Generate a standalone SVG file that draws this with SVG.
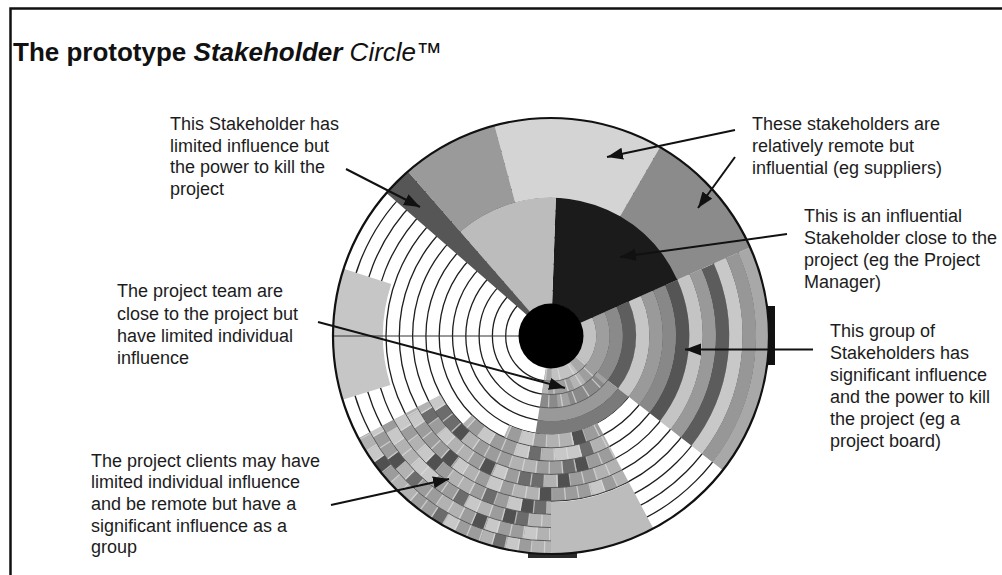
<svg xmlns="http://www.w3.org/2000/svg" width="1002" height="575" viewBox="0 0 1002 575">
<defs>
<style>
.lbl{font-family:"Liberation Sans",Arial,sans-serif;font-size:18px;fill:#1c1c1c}
.ttl{font-family:"Liberation Sans",Arial,sans-serif;font-size:26px;fill:#111}
.arr{stroke:#111;stroke-width:2;fill:none;marker-end:url(#ah)}
.rl{fill:none;stroke:#1e1e1e;stroke-width:1.3}
.b{fill:none;stroke-width:13.5}
.s{fill:none}
.ck{fill:none;stroke-width:13.5}
.c1{stroke:#6c6c6c;stroke-dasharray:13 39 13 65 26 52}
.c2{stroke:#c8c8c8;stroke-dasharray:13 26 13 52 13 39 26 26}
.c3{stroke:#505050;stroke-dasharray:13 91 13 65 13 117}
.c4{stroke:#b2b2b2;stroke-dasharray:26 39 13 78}
.sep{fill:none;stroke:#dedede;stroke-width:13.3;stroke-dasharray:1.3 11.7;opacity:.7}
.cl{fill:none;stroke:#5a5a5a;stroke-width:0.9}
</style>
<marker id="ah" markerUnits="userSpaceOnUse" markerWidth="18" markerHeight="14" refX="16" refY="6" orient="auto"><path d="M0,0 L16,6 L0,12 z" fill="#111"/></marker>
<mask id="mChk" maskUnits="userSpaceOnUse" x="-250" y="-250" width="500" height="500">
<g fill="none" stroke="#fff" stroke-width="13.6">
<circle r="105.15" pathLength="360" stroke-dasharray="53 400" transform="rotate(62)"/>
<circle r="118.45" pathLength="360" stroke-dasharray="73 400" transform="rotate(62)"/>
<circle r="131.75" pathLength="360" stroke-dasharray="90 400" transform="rotate(62)"/>
<circle r="145.05" pathLength="360" stroke-dasharray="90 400" transform="rotate(62)"/>
<circle r="158.35" pathLength="360" stroke-dasharray="90 400" transform="rotate(62)"/>
<circle r="171.65" pathLength="360" stroke-dasharray="62 400" transform="rotate(90)"/>
<circle r="184.95" pathLength="360" stroke-dasharray="62 400" transform="rotate(90)"/>
<circle r="198.25" pathLength="360" stroke-dasharray="62 400" transform="rotate(90)"/>
<circle r="211.55" pathLength="360" stroke-dasharray="62 400" transform="rotate(90)"/>
</g>
</mask>
<mask id="mLow" maskUnits="userSpaceOnUse" x="-250" y="-250" width="500" height="500">
<circle r="65.25" fill="none" stroke="#fff" stroke-width="66.6" pathLength="360" stroke-dasharray="61 400" transform="rotate(38)"/>
</mask>
</defs>
<rect x="0" y="0" width="1002" height="575" fill="#fff"/>
<path d="M10.5,575 V8.5 H1002" fill="none" stroke="#111" stroke-width="2.5"/>
<g id="title"><text class="ttl" x="13" y="61"><tspan font-weight="bold">The prototype </tspan><tspan font-weight="bold" font-style="italic">Stakeholder</tspan><tspan font-style="italic"> Circle™</tspan></text></g>

<rect x="768" y="306" width="7" height="59" fill="#111"/>
<rect x="528" y="553" width="49" height="5" fill="#2a2a2a"/>

<g id="circle" transform="translate(551 336)">
<circle r="218" fill="#fff"/>
<g id="ringlines">
<circle class="rl" r="45.3"/><circle class="rl" r="58.6"/><circle class="rl" r="71.9"/><circle class="rl" r="85.2"/><circle class="rl" r="98.5"/><circle class="rl" r="111.8"/><circle class="rl" r="125.1"/><circle class="rl" r="138.4"/><circle class="rl" r="151.7"/><circle class="rl" r="165"/><circle class="rl" r="178.3"/><circle class="rl" r="191.6"/><circle class="rl" r="204.9"/>
</g>
<g id="bands" transform="rotate(-24)">
<circle class="b" r="38.65" stroke="#c2c2c2" pathLength="360" stroke-dasharray="123 400"/>
<circle class="b" r="51.95" stroke="#9e9e9e" pathLength="360" stroke-dasharray="123 400"/>
<circle class="b" r="65.25" stroke="#8a8a8a" pathLength="360" stroke-dasharray="123 400"/>
<circle class="b" r="78.55" stroke="#5e5e5e" pathLength="360" stroke-dasharray="62 400"/>
<circle class="b" r="78.55" stroke="#999999" pathLength="360" stroke-dasharray="61 400" transform="rotate(62)"/>
<circle class="b" r="91.85" stroke="#c6c6c6" pathLength="360" stroke-dasharray="62 400"/>
<circle class="b" r="91.85" stroke="#7a7a7a" pathLength="360" stroke-dasharray="61 400" transform="rotate(62)"/>
<circle class="b" r="105.15" stroke="#9a9a9a" pathLength="360" stroke-dasharray="62 400"/>
<circle class="b" r="118.45" stroke="#888888" pathLength="360" stroke-dasharray="62 400"/>
<circle class="b" r="131.75" stroke="#555555" pathLength="360" stroke-dasharray="62 400"/>
<circle class="b" r="145.05" stroke="#c4c4c4" pathLength="360" stroke-dasharray="62 400"/>
<circle class="b" r="158.35" stroke="#999999" pathLength="360" stroke-dasharray="62 400"/>
<circle class="b" r="171.65" stroke="#5c5c5c" pathLength="360" stroke-dasharray="62 400"/>
<circle class="b" r="184.95" stroke="#c8c8c8" pathLength="360" stroke-dasharray="62 400"/>
<circle class="b" r="198.25" stroke="#979797" pathLength="360" stroke-dasharray="62 400"/>
<circle class="b" r="211.55" stroke="#a8a8a8" pathLength="360" stroke-dasharray="62 400"/>
</g>
<g id="lowcells" mask="url(#mLow)">
<circle class="ck" r="38.65" stroke="#a8a8a8" stroke-dasharray="12 12 12 24"/>
<circle class="ck" r="51.95" stroke="#b4b4b4" stroke-dasharray="12 36 12 24"/>
<circle class="ck" r="65.25" stroke="#a2a2a2" stroke-dasharray="12 24 24 36" stroke-dashoffset="12"/>
<circle class="sep" r="38.65" stroke-dasharray="1.3 10.7"/><circle class="sep" r="51.95" stroke-dasharray="1.3 10.7"/><circle class="sep" r="65.25" stroke-dasharray="1.3 10.7"/>
<circle class="cl" r="45.3"/><circle class="cl" r="58.6"/><circle class="cl" r="71.9"/>
</g>
<g id="checker" mask="url(#mChk)">
<circle r="158.35" fill="none" stroke="#9c9c9c" stroke-width="120"/>
<circle class="ck c1" r="105.15" stroke-dashoffset="0"/><circle class="ck c2" r="105.15" stroke-dashoffset="26"/><circle class="ck c3" r="105.15" stroke-dashoffset="52"/><circle class="ck c4" r="105.15" stroke-dashoffset="13"/>
<circle class="ck c1" r="118.45" stroke-dashoffset="65"/><circle class="ck c2" r="118.45" stroke-dashoffset="0"/><circle class="ck c3" r="118.45" stroke-dashoffset="130"/><circle class="ck c4" r="118.45" stroke-dashoffset="39"/>
<circle class="ck c1" r="131.75" stroke-dashoffset="26"/><circle class="ck c2" r="131.75" stroke-dashoffset="78"/><circle class="ck c3" r="131.75" stroke-dashoffset="13"/><circle class="ck c4" r="131.75" stroke-dashoffset="91"/>
<circle class="ck c1" r="145.05" stroke-dashoffset="104"/><circle class="ck c2" r="145.05" stroke-dashoffset="39"/><circle class="ck c3" r="145.05" stroke-dashoffset="208"/><circle class="ck c4" r="145.05" stroke-dashoffset="0"/>
<circle class="ck c1" r="158.35" stroke-dashoffset="13"/><circle class="ck c2" r="158.35" stroke-dashoffset="117"/><circle class="ck c3" r="158.35" stroke-dashoffset="65"/><circle class="ck c4" r="158.35" stroke-dashoffset="52"/>
<circle class="ck c1" r="171.65" stroke-dashoffset="143"/><circle class="ck c2" r="171.65" stroke-dashoffset="13"/><circle class="ck c3" r="171.65" stroke-dashoffset="26"/><circle class="ck c4" r="171.65" stroke-dashoffset="117"/>
<circle class="ck c1" r="184.95" stroke-dashoffset="39"/><circle class="ck c2" r="184.95" stroke-dashoffset="156"/><circle class="ck c3" r="184.95" stroke-dashoffset="169"/><circle class="ck c4" r="184.95" stroke-dashoffset="26"/>
<circle class="ck c1" r="198.25" stroke-dashoffset="91"/><circle class="ck c2" r="198.25" stroke-dashoffset="52"/><circle class="ck c3" r="198.25" stroke-dashoffset="247"/><circle class="ck c4" r="198.25" stroke-dashoffset="65"/>
<circle class="ck c1" r="211.55" stroke-dashoffset="182"/><circle class="ck c2" r="211.55" stroke-dashoffset="91"/><circle class="ck c3" r="211.55" stroke-dashoffset="104"/><circle class="ck c4" r="211.55" stroke-dashoffset="143"/>
<circle class="sep" r="105.15"/><circle class="sep" r="118.45"/><circle class="sep" r="131.75"/><circle class="sep" r="145.05"/><circle class="sep" r="158.35"/><circle class="sep" r="171.65"/><circle class="sep" r="184.95"/><circle class="sep" r="198.25"/><circle class="sep" r="211.55"/>
<circle class="cl" r="111.8"/><circle class="cl" r="125.1"/><circle class="cl" r="138.4"/><circle class="cl" r="151.7"/><circle class="cl" r="165"/><circle class="cl" r="178.3"/><circle class="cl" r="191.6"/><circle class="cl" r="204.9"/>
</g>
<g id="sectors">
<circle class="s" r="85.2" stroke="#1b1b1b" stroke-width="106.6" pathLength="360" stroke-dasharray="64 400" transform="rotate(-88)"/>
<circle class="s" r="85.2" stroke="#bcbcbc" stroke-width="106.6" pathLength="360" stroke-dasharray="43 400" transform="rotate(-131)"/>
<circle class="s" r="178.2" stroke="#d4d4d4" stroke-width="80" pathLength="360" stroke-dasharray="45 400" transform="rotate(-105)"/>
<circle class="s" r="178.2" stroke="#8b8b8b" stroke-width="80" pathLength="360" stroke-dasharray="36 400" transform="rotate(-60)"/>
<circle class="s" r="178.2" stroke="#9a9a9a" stroke-width="80" pathLength="360" stroke-dasharray="26 400" transform="rotate(-131)"/>
<circle class="s" r="125" stroke="#565656" stroke-width="186" pathLength="360" stroke-dasharray="8 400" transform="rotate(-139)"/>
<circle class="s" r="193" stroke="#c6c6c6" stroke-width="50" pathLength="360" stroke-dasharray="35 400" transform="rotate(-197)"/>
<circle class="s" r="192" stroke="#bcbcbc" stroke-width="52" pathLength="360" stroke-dasharray="28 400" transform="rotate(62)"/>
</g>
<line x1="-218" y1="0" x2="-32" y2="0" stroke="#333" stroke-width="1"/>
<circle r="32.5" fill="#000"/>
<circle r="218" fill="none" stroke="#111" stroke-width="2.2"/>
</g>

<g id="connectors">
<line class="arr" x1="346" y1="169" x2="420" y2="207"/>
<line class="arr" x1="735" y1="130" x2="607" y2="157"/>
<line class="arr" x1="735" y1="157" x2="698" y2="208"/>
<line class="arr" x1="787" y1="234" x2="620" y2="257"/>
<line class="arr" x1="813" y1="349.5" x2="685" y2="349.5"/>
<line class="arr" x1="318" y1="322" x2="565" y2="388"/>
<line class="arr" x1="331" y1="505" x2="449" y2="479"/>
</g>

<g id="label-kill"><text class="lbl"><tspan x="170" y="130">This Stakeholder has</tspan><tspan x="170" y="151.5">limited influence but</tspan><tspan x="170" y="173">the power to kill the</tspan><tspan x="170" y="194.5">project</tspan></text></g>
<g id="label-remote"><text class="lbl"><tspan x="752" y="129.5">These stakeholders are</tspan><tspan x="752" y="151.7">relatively remote but</tspan><tspan x="752" y="174">influential (eg suppliers)</tspan></text></g>
<g id="label-influential"><text class="lbl"><tspan x="804" y="222">This is an influential</tspan><tspan x="804" y="244">Stakeholder close to the</tspan><tspan x="804" y="266">project (eg the Project</tspan><tspan x="804" y="288">Manager)</tspan></text></g>
<g id="label-board"><text class="lbl"><tspan x="830" y="336.5">This group of</tspan><tspan x="830" y="358.5">Stakeholders has</tspan><tspan x="830" y="380.5">significant influence</tspan><tspan x="830" y="402.5">and the power to kill</tspan><tspan x="830" y="424.5">the project (eg a</tspan><tspan x="830" y="446.5">project board)</tspan></text></g>
<g id="label-team"><text class="lbl"><tspan x="117" y="297">The project team are</tspan><tspan x="117" y="319.5">close to the project but</tspan><tspan x="117" y="341.5">have limited individual</tspan><tspan x="117" y="364">influence</tspan></text></g>
<g id="label-clients"><text class="lbl"><tspan x="91" y="466.5">The project clients may have</tspan><tspan x="91" y="488">limited individual influence</tspan><tspan x="91" y="510">and be remote but have a</tspan><tspan x="91" y="531.5">significant influence as a</tspan><tspan x="91" y="553">group</tspan></text></g>
</svg>
